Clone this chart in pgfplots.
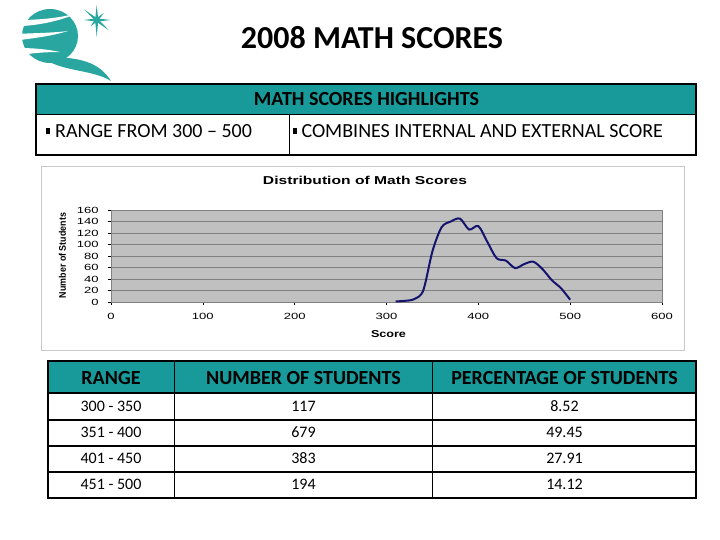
\documentclass[border=0pt]{standalone}
\usepackage{fontspec}
\setmainfont{Carlito}
\newfontfamily\arial{Liberation Sans}
\usepackage{pgfplots}
\pgfplotsset{compat=1.18}
\usetikzlibrary{calc}
\usepackage{graphicx}

\definecolor{slideteal}{RGB}{23,154,153}
\definecolor{logoteal}{RGB}{42,166,160}
\definecolor{plotgray}{RGB}{192,192,192}
\definecolor{gridgray}{RGB}{128,128,128}
\definecolor{navyline}{RGB}{20,20,110}
\definecolor{framegray}{RGB}{200,200,200}

\pgfplotstableread{
score count
310 1
320 2
330 5
340 20
350 88
360 130
370 140
380 145
390 126
400 132
410 104
420 76
430 72
440 59
450 66
460 70
470 57
480 38
490 24
500 4
}\scoredata

\begin{document}
\begin{tikzpicture}
\begin{scope}[x=1pt,y=-1pt]
\fill[white] (0,0) rectangle (720,540);
\useasboundingbox (0,0) rectangle (720,540);
% ---- logo ----
\fill[logoteal] (50,36) ellipse [x radius=28, y radius=27];
\fill[white] (18,20) .. controls (40,20) and (60,18) .. (78,13) .. controls (60,21) and (40,25) .. (22,26) -- cycle;
\fill[white] (16,34) .. controls (35,33) and (52,33) .. (68,31) .. controls (52,36) and (35,38) .. (20,40) -- cycle;
\fill[white] (18,48) .. controls (32,48) and (46,49) .. (60,52) .. controls (46,52) and (32,53) .. (22,55) -- cycle;
\fill[logoteal] (42,57) .. controls (60,72) and (92,69) .. (111,81)
   .. controls (101,65) and (86,60) .. (68,58) -- cycle;
\foreach \a/\r in {90/17,270/15,0/14,180/13,40/16,220/16,135/9,315/10}{
  \fill[logoteal] ($(96.7,20)+(\a+90:1.6)$) -- ($(96.7,20)+(\a:\r)$) -- ($(96.7,20)+(\a-90:1.6)$) -- cycle;
}
% ---- title ----
\node[anchor=base, inner sep=0] at (372,49) {\fontsize{32}{38}\selectfont\bfseries 2008 MATH SCORES};
% ---- highlights box ----
\fill[slideteal] (36,84) rectangle (696,115);
\draw[line width=1pt] (36,115) -- (696,115);
\draw[line width=1pt] (289,115) -- (289,155);
\draw[line width=1.6pt] (36,84) rectangle (696,155);
\node[anchor=base, inner sep=0] at (366.5,106) {\fontsize{20}{24}\selectfont\bfseries MATH SCORES HIGHLIGHTS};
\fill[black] (46,128.5) rectangle (49.5,134);
\node[anchor=base west, inner sep=0] at (55,137.7) {\fontsize{20}{24}\selectfont RANGE FROM 300 -- 500};
\fill[black] (293,128.5) rectangle (296.5,134);
\node[anchor=base west, inner sep=0] at (301.3,137.7) {\fontsize{20}{24}\selectfont COMBINES INTERNAL AND EXTERNAL SCORE};
% ---- chart frame ----
\draw[framegray, line width=1pt] (41.5,166.5) rectangle (684,350);
% ---- data table ----
\fill[slideteal] (48,361) rectangle (696,393);
\foreach \yy in {393,420,446,472}{\draw[line width=1.4pt] (48,\yy) -- (696,\yy);}
\draw[line width=1.4pt] (174.5,361) -- (174.5,498);
\draw[line width=1.4pt] (432.5,361) -- (432.5,498);
\draw[line width=1.6pt] (48,361) rectangle (696,498);
\node[anchor=base, inner sep=0] at (111,384.3) {\fontsize{20}{24}\selectfont\bfseries RANGE};
\node[anchor=base, inner sep=0] at (303.5,384.3) {\fontsize{20}{24}\selectfont\bfseries NUMBER OF STUDENTS};
\node[anchor=base, inner sep=0] at (564.5,384.3) {\fontsize{20}{24}\selectfont\bfseries PERCENTAGE OF STUDENTS};
\foreach \r/\n/\p [count=\i from 0] in {300 - 350/117/8.52, 351 - 400/679/49.45, 401 - 450/383/27.91, 451 - 500/194/14.12}{
  \pgfmathsetmacro{\yb}{411.7+25.9*\i}
  \node[anchor=base, inner sep=0] at (111,\yb) {\fontsize{16}{19}\selectfont \r};
  \node[anchor=base, inner sep=0] at (303.5,\yb) {\fontsize{16}{19}\selectfont \n};
  \node[anchor=base, inner sep=0] at (564.5,\yb) {\fontsize{16}{19}\selectfont \p};
}
% ---- chart labels ----
\node[anchor=base, inner sep=0] at (365,185) {\arial\resizebox{204pt}{8.3pt}{\bfseries Distribution of Math Scores}};
\node[anchor=base, inner sep=0] at (388.5,337) {\arial\resizebox{35pt}{7pt}{\bfseries Score}};
\node[anchor=base, inner sep=0, rotate=90] at (65.8,255.5) {\arial\resizebox{85pt}{7pt}{\bfseries Number of Students}};
\end{scope}
\begin{axis}[
  at={(111pt,-302pt)}, anchor=south west,
  scale only axis, width=551pt, height=92pt,
  xmin=0, xmax=600, ymin=0, ymax=160,
  xtick={0,100,...,600}, ytick={0,20,...,160},
  ymajorgrids, grid style={gridgray, line width=0.9pt},
  axis background/.style={fill=plotgray},
  axis line style={gridgray, line width=0.9pt},
  tick style={black, line width=0.6pt},
  tick align=outside, major tick length=3pt, tick pos=left,
  /pgf/number format/assume math mode=true,
  ticklabel style={font=\arial\fontsize{9}{10}\selectfont, xscale=1.45},
  yticklabel style={xshift=-3pt},
  xticklabel style={yshift=-5pt},
]
\addplot[navyline, line width=2pt, smooth, tension=0.5] table[x=score, y=count] {\scoredata};
\end{axis}
\end{tikzpicture}
\end{document}
